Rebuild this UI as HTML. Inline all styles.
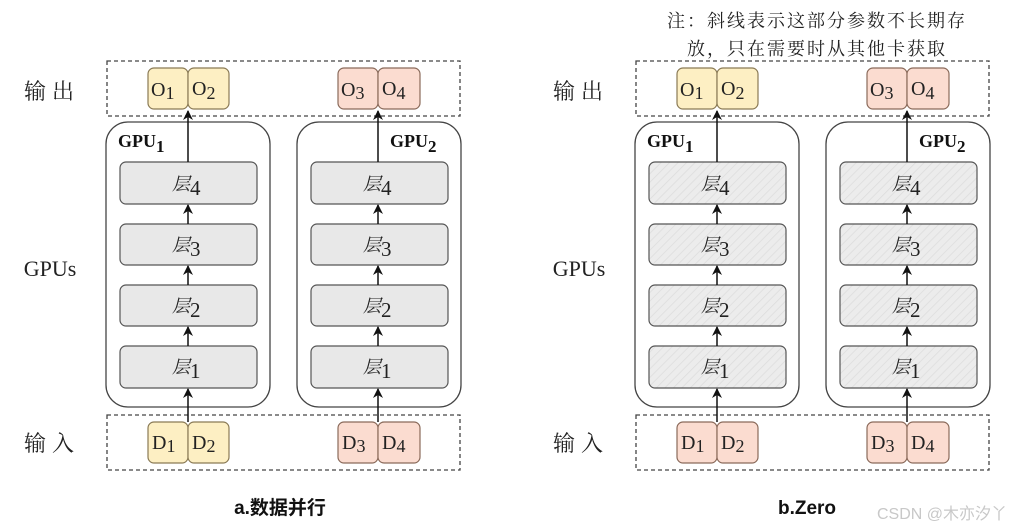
<!DOCTYPE html>
<html><head><meta charset="utf-8"><style>
html,body{margin:0;padding:0;background:#fff;}
svg{display:block;}
.cj{font-family:"Liberation Serif","Noto Serif CJK SC",serif;}
</style></head><body>
<svg width="1032" height="531" viewBox="0 0 1032 531" xmlns="http://www.w3.org/2000/svg">
<defs>
<pattern id="h" width="6" height="6" patternUnits="userSpaceOnUse" patternTransform="rotate(45)">
<rect width="6" height="6" fill="#ececec"/><line x1="0" y1="0" x2="0" y2="6" stroke="#dcdcdc" stroke-width="1.5"/>
</pattern>
<marker id="ar" markerWidth="10" markerHeight="10" refX="9" refY="5" orient="auto" markerUnits="userSpaceOnUse">
<path d="M0,0 L10,5 L0,10 L3,5 Z" fill="#111"/></marker>
<g id="panel">
<text x="52" y="99" font-size="22" text-anchor="middle" class="cj" fill="#222" letter-spacing="6">输出</text>
<text x="50" y="276" font-size="22" text-anchor="middle" font-family="Liberation Serif,serif" fill="#222">GPUs</text>
<text x="52" y="451" font-size="22" text-anchor="middle" class="cj" fill="#222" letter-spacing="6">输入</text>
<rect x="107" y="61" width="353" height="55" fill="none" stroke="#444" stroke-width="1.3" stroke-dasharray="4,3"/>
<rect x="107" y="415" width="353" height="55" fill="none" stroke="#444" stroke-width="1.3" stroke-dasharray="4,3"/>
<rect x="106" y="122" width="164" height="285" rx="22" fill="none" stroke="#444" stroke-width="1.3"/>
<rect x="297" y="122" width="164" height="285" rx="22" fill="none" stroke="#444" stroke-width="1.3"/>
<text x="118" y="147" font-size="18" font-weight="bold" font-family="Liberation Serif,serif" fill="#111">GPU<tspan font-size="17" dy="5">1</tspan></text>
<text x="390" y="147" font-size="18" font-weight="bold" font-family="Liberation Serif,serif" fill="#111">GPU<tspan font-size="17" dy="5">2</tspan></text>
</g>
</defs>

<g font-family="Liberation Serif,serif">
<use href="#panel"/>
<use href="#panel" x="529"/>
</g>

<g stroke-width="1.2" font-family="Liberation Serif,serif" font-size="20" fill="#222">
<rect x="148" y="68" width="40" height="41" rx="6" fill="#fdefc3" stroke="#8a7a55"/>
<rect x="188" y="68" width="41" height="41" rx="6" fill="#fdefc3" stroke="#8a7a55"/>
<rect x="338" y="68" width="40" height="41" rx="6" fill="#fbdcd0" stroke="#8a6a5a"/>
<rect x="378" y="68" width="42" height="41" rx="6" fill="#fbdcd0" stroke="#8a6a5a"/>
<rect x="148" y="422" width="40" height="41" rx="6" fill="#fdefc3" stroke="#8a7a55"/>
<rect x="188" y="422" width="41" height="41" rx="6" fill="#fdefc3" stroke="#8a7a55"/>
<rect x="338" y="422" width="40" height="41" rx="6" fill="#fbdcd0" stroke="#8a6a5a"/>
<rect x="378" y="422" width="42" height="41" rx="6" fill="#fbdcd0" stroke="#8a6a5a"/>
<rect x="677" y="68" width="40" height="41" rx="6" fill="#fdefc3" stroke="#8a7a55"/>
<rect x="717" y="68" width="41" height="41" rx="6" fill="#fdefc3" stroke="#8a7a55"/>
<rect x="867" y="68" width="40" height="41" rx="6" fill="#fbdcd0" stroke="#8a6a5a"/>
<rect x="907" y="68" width="42" height="41" rx="6" fill="#fbdcd0" stroke="#8a6a5a"/>
<rect x="677" y="422" width="40" height="41" rx="6" fill="#fbdcd0" stroke="#8a6a5a"/>
<rect x="717" y="422" width="41" height="41" rx="6" fill="#fbdcd0" stroke="#8a6a5a"/>
<rect x="867" y="422" width="40" height="41" rx="6" fill="#fbdcd0" stroke="#8a6a5a"/>
<rect x="907" y="422" width="42" height="41" rx="6" fill="#fbdcd0" stroke="#8a6a5a"/>
<g stroke="none">
<text x="151" y="96">O<tspan font-size="18" dy="3">1</tspan></text><text x="192" y="95">O<tspan font-size="18" dy="4">2</tspan></text>
<text x="341" y="96">O<tspan font-size="18" dy="3">3</tspan></text><text x="382" y="95">O<tspan font-size="18" dy="4">4</tspan></text>
<text x="152" y="449">D<tspan font-size="18" dy="3">1</tspan></text><text x="192" y="449">D<tspan font-size="18" dy="3">2</tspan></text>
<text x="342" y="449">D<tspan font-size="18" dy="3">3</tspan></text><text x="382" y="449">D<tspan font-size="18" dy="3">4</tspan></text>
<text x="680" y="96">O<tspan font-size="18" dy="3">1</tspan></text><text x="721" y="95">O<tspan font-size="18" dy="4">2</tspan></text>
<text x="870" y="96">O<tspan font-size="18" dy="3">3</tspan></text><text x="911" y="95">O<tspan font-size="18" dy="4">4</tspan></text>
<text x="681" y="449">D<tspan font-size="18" dy="3">1</tspan></text><text x="721" y="449">D<tspan font-size="18" dy="3">2</tspan></text>
<text x="871" y="449">D<tspan font-size="18" dy="3">3</tspan></text><text x="911" y="449">D<tspan font-size="18" dy="3">4</tspan></text>
</g>
</g>

<g stroke="#555" stroke-width="1.2">
<rect x="120" y="162" width="137" height="42" rx="6" fill="#e8e8e8"/>
<rect x="120" y="224" width="137" height="41" rx="6" fill="#e8e8e8"/>
<rect x="120" y="285" width="137" height="41" rx="6" fill="#e8e8e8"/>
<rect x="120" y="346" width="137" height="42" rx="6" fill="#e8e8e8"/>
<rect x="311" y="162" width="137" height="42" rx="6" fill="#e8e8e8"/>
<rect x="311" y="224" width="137" height="41" rx="6" fill="#e8e8e8"/>
<rect x="311" y="285" width="137" height="41" rx="6" fill="#e8e8e8"/>
<rect x="311" y="346" width="137" height="42" rx="6" fill="#e8e8e8"/>
<rect x="649" y="162" width="137" height="42" rx="6" fill="url(#h)"/>
<rect x="649" y="224" width="137" height="41" rx="6" fill="url(#h)"/>
<rect x="649" y="285" width="137" height="41" rx="6" fill="url(#h)"/>
<rect x="649" y="346" width="137" height="42" rx="6" fill="url(#h)"/>
<rect x="840" y="162" width="137" height="42" rx="6" fill="url(#h)"/>
<rect x="840" y="224" width="137" height="41" rx="6" fill="url(#h)"/>
<rect x="840" y="285" width="137" height="41" rx="6" fill="url(#h)"/>
<rect x="840" y="346" width="137" height="42" rx="6" fill="url(#h)"/>
</g>
<g font-size="18" fill="#222" class="cj" font-style="italic">
<text x="172" y="190">层<tspan font-family="Liberation Serif,serif" font-style="normal" font-size="21" dy="5">4</tspan></text>
<text x="172" y="251">层<tspan font-family="Liberation Serif,serif" font-style="normal" font-size="21" dy="5">3</tspan></text>
<text x="172" y="312">层<tspan font-family="Liberation Serif,serif" font-style="normal" font-size="21" dy="5">2</tspan></text>
<text x="172" y="373">层<tspan font-family="Liberation Serif,serif" font-style="normal" font-size="21" dy="5">1</tspan></text>
<text x="363" y="190">层<tspan font-family="Liberation Serif,serif" font-style="normal" font-size="21" dy="5">4</tspan></text>
<text x="363" y="251">层<tspan font-family="Liberation Serif,serif" font-style="normal" font-size="21" dy="5">3</tspan></text>
<text x="363" y="312">层<tspan font-family="Liberation Serif,serif" font-style="normal" font-size="21" dy="5">2</tspan></text>
<text x="363" y="373">层<tspan font-family="Liberation Serif,serif" font-style="normal" font-size="21" dy="5">1</tspan></text>
<text x="701" y="190">层<tspan font-family="Liberation Serif,serif" font-style="normal" font-size="21" dy="5">4</tspan></text>
<text x="701" y="251">层<tspan font-family="Liberation Serif,serif" font-style="normal" font-size="21" dy="5">3</tspan></text>
<text x="701" y="312">层<tspan font-family="Liberation Serif,serif" font-style="normal" font-size="21" dy="5">2</tspan></text>
<text x="701" y="373">层<tspan font-family="Liberation Serif,serif" font-style="normal" font-size="21" dy="5">1</tspan></text>
<text x="892" y="190">层<tspan font-family="Liberation Serif,serif" font-style="normal" font-size="21" dy="5">4</tspan></text>
<text x="892" y="251">层<tspan font-family="Liberation Serif,serif" font-style="normal" font-size="21" dy="5">3</tspan></text>
<text x="892" y="312">层<tspan font-family="Liberation Serif,serif" font-style="normal" font-size="21" dy="5">2</tspan></text>
<text x="892" y="373">层<tspan font-family="Liberation Serif,serif" font-style="normal" font-size="21" dy="5">1</tspan></text>
</g>

<g stroke="#111" stroke-width="1.5" marker-end="url(#ar)">
<line x1="188" y1="162" x2="188" y2="111"/><line x1="188" y1="224" x2="188" y2="205"/><line x1="188" y1="285" x2="188" y2="266"/><line x1="188" y1="346" x2="188" y2="327"/><line x1="188" y1="422" x2="188" y2="389"/>
<line x1="378" y1="162" x2="378" y2="111"/><line x1="378" y1="224" x2="378" y2="205"/><line x1="378" y1="285" x2="378" y2="266"/><line x1="378" y1="346" x2="378" y2="327"/><line x1="378" y1="422" x2="378" y2="389"/>
<line x1="717" y1="162" x2="717" y2="111"/><line x1="717" y1="224" x2="717" y2="205"/><line x1="717" y1="285" x2="717" y2="266"/><line x1="717" y1="346" x2="717" y2="327"/><line x1="717" y1="422" x2="717" y2="389"/>
<line x1="907" y1="162" x2="907" y2="111"/><line x1="907" y1="224" x2="907" y2="205"/><line x1="907" y1="285" x2="907" y2="266"/><line x1="907" y1="346" x2="907" y2="327"/><line x1="907" y1="422" x2="907" y2="389"/>
</g>

<g font-size="18" fill="#222" class="cj" text-anchor="middle" letter-spacing="2">
<text x="817" y="27">注：斜线表示这部分参数不长期存</text>
<text x="817" y="55">放，只在需要时从其他卡获取</text>
</g>
<text x="280" y="514" font-size="19" font-weight="bold" text-anchor="middle" font-family="Liberation Sans,Noto Sans CJK SC,sans-serif" fill="#111">a.数据并行</text>
<text x="807" y="514" font-size="19" font-weight="bold" text-anchor="middle" font-family="Liberation Sans,sans-serif" fill="#111">b.Zero</text>
<text x="877" y="519" font-size="16" font-family="Liberation Sans,Noto Sans CJK SC,sans-serif" fill="#c8c8c8">CSDN @木亦汐丫</text>
</svg>
</body></html>
